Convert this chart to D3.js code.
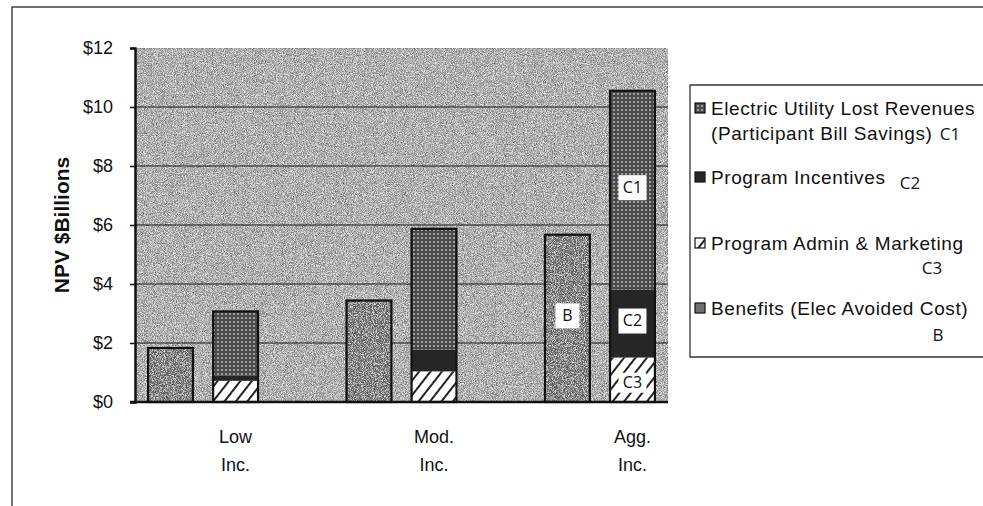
<!DOCTYPE html>
<html>
<head>
<meta charset="utf-8">
<script src="https://cdn.jsdelivr.net/npm/d3@7"></script>
<style>
  body { margin: 0; background: #fff; }
  text { font-family: "Liberation Sans Narrow", "Liberation Sans", Arial, sans-serif; fill: #111; }
  .tag { font-family: "Open Sans", "DejaVu Sans", sans-serif; }
</style>
</head>
<body>
<svg id="svg"></svg>
<script>
var width = 983, height = 506;

// data ($ billions, NPV)
var groups = ["Low", "Mod.", "Agg."];
var groupLines = [["Low", "Inc."], ["Mod.", "Inc."], ["Agg.", "Inc."]];
var benefits = [1.83, 3.44, 5.67];      // B
var adminMarketing = [0.72, 1.04, 1.51]; // C3
var incentives = [0.17, 0.73, 2.30];    // C2
var lostRevenues = [2.18, 4.10, 6.74];  // C1
var yTicks = [0, 2, 4, 6, 8, 10, 12];

var seriesKeys = ["C3", "C2", "C1"];
var legendKeys = ["C1", "C2", "C3", "B"];
var legendText = {
	C1: ["Electric Utility Lost Revenues", "(Participant Bill Savings)"],
	C2: ["Program Incentives"],
	C3: ["Program Admin & Marketing"],
	B: ["Benefits (Elec Avoided Cost)"]
};
// annotation tags drawn on the Agg. bars
var tagGroup = "Agg.";
var tagKeys = ["B", "C2", "C1", "C3"];

var svg = d3.select("#svg")
	.attr("width", width)
	.attr("height", height);

var defs = svg.append("defs");

// scanned grain: light and dark speckles over the fill
var grain = defs.append("filter").attr("id", "grain")
	.attr("x", 0).attr("y", 0).attr("width", 1).attr("height", 1);
grain.append("feTurbulence").attr("type", "fractalNoise")
	.attr("baseFrequency", 1.1).attr("numOctaves", 2).attr("seed", 4).attr("result", "noise");
grain.append("feColorMatrix").attr("in", "noise").attr("type", "matrix")
	.attr("values", "0 0 0 0 1  0 0 0 0 1  0 0 0 0 1  2.4 0 0 0 -1.1")
	.attr("result", "light");
grain.append("feColorMatrix").attr("in", "noise").attr("type", "matrix")
	.attr("values", "0 0 0 0 0  0 0 0 0 0  0 0 0 0 0  -2.4 0 0 0 1.1")
	.attr("result", "dark");
grain.append("feComposite").attr("in", "light").attr("in2", "SourceGraphic")
	.attr("operator", "in").attr("result", "lightIn");
grain.append("feComposite").attr("in", "dark").attr("in2", "SourceGraphic")
	.attr("operator", "in").attr("result", "darkIn");
grain.append("feMerge").call(function(m) {
	m.append("feMergeNode").attr("in", "SourceGraphic");
	m.append("feMergeNode").attr("in", "lightIn");
	m.append("feMergeNode").attr("in", "darkIn");
});

var dots = defs.append("pattern").attr("id", "dots")
	.attr("width", 4).attr("height", 4).attr("patternUnits", "userSpaceOnUse");
dots.append("rect").attr("width", 4).attr("height", 4).attr("fill", "#4a4a4a");
dots.append("rect").attr("x", 1).attr("y", 1).attr("width", 2).attr("height", 2).attr("fill", "#a0a0a0");

var hatch = defs.append("pattern").attr("id", "hatch")
	.attr("width", 9).attr("height", 9).attr("patternUnits", "userSpaceOnUse")
	.attr("patternTransform", "rotate(38)");
hatch.append("rect").attr("width", 9).attr("height", 9).attr("fill", "#fff");
hatch.append("rect").attr("width", 2).attr("height", 9).attr("fill", "#222");

var fills = { B: "#707070", C1: "url(#dots)", C2: "#262626", C3: "url(#hatch)" };
var grained = { B: true, C1: false, C2: false, C3: false };

// frame
svg.append("path")
	.attr("d", "M12,506 L12,7 L983,7")
	.attr("fill", "none").attr("stroke", "#444").attr("stroke-width", 1.5);

var plotL = 135, plotR = 668, plotT = 48, plotB = 402;

var y = d3.scaleLinear().domain([0, 12]).range([plotB, plotT]);

var x0 = d3.scaleBand().domain(groups).range([plotL, plotR])
	.paddingInner(0.446).paddingOuter(0.066);
var x1 = d3.scaleBand().domain(["B", "C"]).range([0, x0.bandwidth()])
	.paddingInner(0.31);

// plot area
svg.append("rect")
	.attr("x", plotL).attr("y", plotT)
	.attr("width", plotR - plotL).attr("height", plotB - plotT)
	.attr("fill", "#a4a4a4").attr("stroke", "#777").attr("stroke-width", 1)
	.attr("filter", "url(#grain)");

// gridlines
svg.append("g").selectAll("line")
	.data(yTicks.filter(function(d) { return d > 0 && d < 12; }))
	.enter().append("line")
	.attr("x1", plotL).attr("x2", plotR)
	.attr("y1", function(d) { return y(d); })
	.attr("y2", function(d) { return y(d); })
	.attr("stroke", "#1a1a1a").attr("stroke-width", 1.2);

// stacked cost bars
var table = groups.map(function(g, i) {
	return { group: g, C3: adminMarketing[i], C2: incentives[i], C1: lostRevenues[i], B: benefits[i] };
});
var stacked = d3.stack().keys(seriesKeys)(table);

var bars = svg.append("g");
bars.selectAll(".ben")
	.data(table)
	.enter().append("rect")
	.attr("class", "ben")
	.attr("x", function(d) { return x0(d.group) + x1("B"); })
	.attr("y", function(d) { return y(d.B); })
	.attr("width", x1.bandwidth())
	.attr("height", function(d) { return y(0) - y(d.B); })
	.attr("fill", fills.B)
	.attr("filter", "url(#grain)");

stacked.forEach(function(s) {
	bars.selectAll(".s" + s.key)
		.data(s)
		.enter().append("rect")
		.attr("x", function(d) { return x0(d.data.group) + x1("C"); })
		.attr("y", function(d) { return y(d[1]); })
		.attr("width", x1.bandwidth())
		.attr("height", function(d) { return y(d[0]) - y(d[1]); })
		.attr("fill", fills[s.key])
		.attr("filter", grained[s.key] ? "url(#grain)" : null);
});

// outlines
bars.selectAll(".outB")
	.data(table)
	.enter().append("rect")
	.attr("x", function(d) { return x0(d.group) + x1("B"); })
	.attr("y", function(d) { return y(d.B); })
	.attr("width", x1.bandwidth())
	.attr("height", function(d) { return y(0) - y(d.B); })
	.attr("fill", "none").attr("stroke", "#111").attr("stroke-width", 2.2);
bars.selectAll(".outC")
	.data(stacked[stacked.length - 1])
	.enter().append("rect")
	.attr("x", function(d) { return x0(d.data.group) + x1("C"); })
	.attr("y", function(d) { return y(d[1]); })
	.attr("width", x1.bandwidth())
	.attr("height", function(d) { return y(0) - y(d[1]); })
	.attr("fill", "none").attr("stroke", "#111").attr("stroke-width", 2.2);

// axes
var yAxis = d3.axisLeft(y)
	.tickValues(yTicks)
	.tickSize(5)
	.tickPadding(17)
	.tickFormat(function(d) { return "$" + d; });
var gy = svg.append("g")
	.attr("transform", "translate(" + plotL + ",0)")
	.call(yAxis);
gy.select(".domain").attr("stroke", "#111").attr("stroke-width", 2.5);
gy.selectAll(".tick line").attr("stroke", "#111").attr("stroke-width", 1.5);
gy.selectAll(".tick text")
	.attr("font-size", 18)
	.attr("font-family", null)
	.attr("fill", "#111");

svg.append("line")
	.attr("x1", plotL - 5).attr("x2", plotR)
	.attr("y1", plotB).attr("y2", plotB)
	.attr("stroke", "#111").attr("stroke-width", 2.5);

// x labels (under the cost bars)
var xl = svg.append("g").selectAll("text")
	.data(groups)
	.enter().append("text")
	.attr("x", function(d) { return x0(d) + x1("C") + x1.bandwidth() / 2; })
	.attr("y", 443)
	.attr("text-anchor", "middle")
	.attr("font-size", 18);
xl.selectAll("tspan")
	.data(function(d, i) { return groupLines[i]; })
	.enter().append("tspan")
	.attr("x", function() { return d3.select(this.parentNode).attr("x"); })
	.attr("dy", function(d, i) { return i === 0 ? 0 : 28; })
	.text(function(d) { return d; });

// y title
svg.append("text")
	.attr("transform", "translate(69," + ((plotT + plotB) / 2) + ") rotate(-90)")
	.attr("text-anchor", "middle")
	.style("font-family", "'Liberation Sans', Arial, sans-serif")
	.attr("font-weight", "bold")
	.attr("font-size", 21)
	.text("NPV $Billions");

// tags on the Agg. bars
var gi = groups.indexOf(tagGroup);
var cx = x0(tagGroup) + x1("C") + x1.bandwidth() / 2;
var tagPos = {
	B: { x: x0(tagGroup) + x1("B") + x1.bandwidth() / 2, v: benefits[gi] / 2 },
	C3: { x: cx, v: (stacked[0][gi][0] + stacked[0][gi][1]) / 2 },
	C2: { x: cx, v: (stacked[1][gi][0] + stacked[1][gi][1]) / 2 },
	C1: { x: cx, v: (stacked[2][gi][0] + stacked[2][gi][1]) / 2 }
};
var tags = svg.append("g").selectAll("g")
	.data(tagKeys)
	.enter().append("g")
	.attr("transform", function(k) {
		return "translate(" + tagPos[k].x + "," + (y(tagPos[k].v) - (k === "C3" ? -3 : 3)) + ")";
	});
tags.append("rect")
	.attr("x", function(k) { return k === "B" ? -12 : -14; })
	.attr("y", function(k) { return k === "C3" ? -10 : -12; })
	.attr("width", function(k) { return k === "B" ? 24 : 28; })
	.attr("height", function(k) { return k === "C3" ? 20 : 25; })
	.attr("fill", "#fff");
tags.append("text")
	.attr("class", "tag")
	.attr("text-anchor", "middle")
	.attr("dy", "0.36em")
	.attr("font-size", 16)
	.text(function(k) { return k; });

// legend
var legX = 690, legY = 85;
svg.append("path")
	.attr("d", "M983," + legY + " L" + legX + "," + legY + " L" + legX + ",357 L983,357")
	.attr("fill", "none").attr("stroke", "#333").attr("stroke-width", 1.3);

var rowY = { C1: 108, C2: 177, C3: 243, B: 308 };
var tagXY = { C1: [950, 134], C2: [910, 183], C3: [932, 268], B: [938, 335] };

var leg = svg.append("g").selectAll("g")
	.data(legendKeys)
	.enter().append("g");
leg.append("rect")
	.attr("x", 695).attr("y", function(k) { return rowY[k] - 5; })
	.attr("width", 10).attr("height", 10)
	.attr("fill", function(k) { return fills[k]; })
	.attr("stroke", "#111").attr("stroke-width", 1.2);
leg.append("text")
	.attr("x", 711)
	.attr("y", function(k) { return rowY[k]; })
	.attr("font-size", 19)
	.style("letter-spacing", "0.6px")
	.style("font-family", "'Liberation Sans', Arial, sans-serif")
	.selectAll("tspan")
	.data(function(k) { return legendText[k]; })
	.enter().append("tspan")
	.attr("x", 711)
	.attr("dy", function(d, i) { return i === 0 ? "0.35em" : 25; })
	.text(function(d) { return d; });
leg.append("text")
	.attr("class", "tag")
	.attr("x", function(k) { return tagXY[k][0]; })
	.attr("y", function(k) { return tagXY[k][1]; })
	.attr("dy", "0.36em")
	.attr("text-anchor", "middle")
	.attr("font-size", 17)
	.text(function(k) { return k; });
</script>
</body>
</html>
